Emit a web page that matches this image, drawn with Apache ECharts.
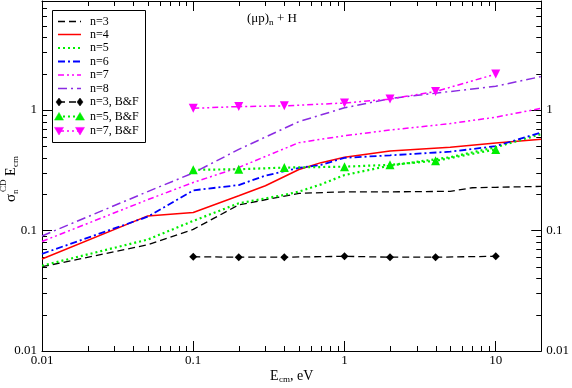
<!DOCTYPE html>
<html><head><meta charset="utf-8">
<script src="https://cdn.jsdelivr.net/npm/echarts@6/dist/echarts.min.js"></script>
<style>html,body{margin:0;padding:0;background:#fff}#c{width:572px;height:388px}</style>
</head><body><div id="c"></div><script>
const FONT = '"Liberation Serif","DejaVu Serif",serif';

// ---- tick labels ----
const xTickLabels = ['0.01', '0.1', '1', '10'];
const yTickLabels = ['0.01', '0.1', '1'];
const X_MIN = 0.01, X_MAX = 20, Y_MIN = 0.01, Y_MAX = 8;
const decades = [0.01, 0.1, 1, 10];
const minorMult = [2, 3, 4, 5, 6, 7, 8, 9];

// ---- series ----
const seriesNames = ['n=3', 'n=4', 'n=5', 'n=6', 'n=7', 'n=8', 'n=3, B&F', 'n=5, B&F', 'n=7, B&F'];
const n3 = [[0.01,0.050],[0.05,0.076],[0.1,0.102],[0.2,0.163],[0.5,0.203],[1,0.209],[2,0.209],[5,0.211],[7,0.226],[10,0.228],[20,0.232]];
const n4 = [[0.01,0.058],[0.05,0.132],[0.1,0.141],[0.2,0.194],[0.3,0.235],[0.5,0.32],[0.7,0.365],[1,0.405],[2,0.455],[5,0.49],[10,0.53],[20,0.57]];
const n5 = [[0.01,0.051],[0.05,0.084],[0.1,0.12],[0.2,0.168],[0.4,0.197],[0.5,0.21],[0.7,0.241],[1,0.288],[2,0.345],[5,0.405],[10,0.49],[20,0.63]];
const n6 = [[0.01,0.064],[0.05,0.130],[0.1,0.215],[0.2,0.238],[0.3,0.285],[0.5,0.33],[0.7,0.35],[1,0.40],[2,0.42],[5,0.45],[10,0.50],[20,0.65]];
const n7 = [[0.01,0.081],[0.05,0.18],[0.1,0.25],[0.2,0.333],[0.5,0.535],[1,0.61],[2,0.68],[5,0.77],[10,0.87],[20,1.03]];
const n8 = [[0.01,0.09],[0.05,0.21],[0.1,0.30],[0.2,0.47],[0.5,0.80],[1,1.04],[2,1.24],[5,1.42],[10,1.57],[20,1.89]];
const bf3 = [[0.1,0.0605],[0.2,0.060],[0.4,0.060],[1,0.061],[2,0.060],[4,0.060],[10,0.061]];
const bf5 = [[0.1,0.318],[0.2,0.322],[0.4,0.332],[1,0.338],[2,0.35],[4,0.378],[10,0.47]];
const bf7 = [[0.1,1.03],[0.2,1.065],[0.4,1.08],[1,1.14],[2,1.23],[4,1.42],[10,1.98]];

const xMinor = [];
decades.forEach(d => minorMult.forEach(m => { const v = +(d * m).toPrecision(6); if (v < X_MAX) xMinor.push([v, Y_MIN]); }));
const yMinor = [];
decades.forEach(d => minorMult.forEach(m => { const v = +(d * m).toPrecision(6); if (v < Y_MAX) yMinor.push([X_MIN, v]); }));

// ---- styles (per series, same order as seriesNames) ----
const styles = [
  { color: '#000000', dash: [7, 4], width: 1.3, symbol: null },
  { color: '#ff0000', dash: 'solid', width: 1.5, symbol: null },
  { color: '#00ee00', dash: [2, 3], width: 2.2, symbol: null },
  { color: '#0000ff', dash: [7, 3, 2, 3], width: 1.8, symbol: null },
  { color: '#ff00ff', dash: [6, 3, 2, 3, 2, 3], width: 1.5, symbol: null },
  { color: '#8a2be2', dash: [9, 4, 2, 4], width: 1.5, symbol: null },
  { color: '#000000', dash: [7, 4], width: 1.3, symbol: 'diamond', size: 8 },
  { color: '#00ee00', dash: [2, 3], width: 2.2, symbol: 'triangle', size: 9 },
  { color: '#ff00ff', dash: [6, 3, 2, 3, 2, 3], width: 1.5, symbol: 'triangle', size: 9, rotate: 180 }
];
const seriesData = [n3, n4, n5, n6, n7, n8, bf3, bf5, bf7];

function fmt(labels, first) {
  return function (v) {
    const l = Math.log10(v);
    const r = Math.round(l);
    if (Math.abs(l - r) > 1e-6) return '';
    return labels[r - first] || '';
  };
}

const axisCommon = {
  type: 'log', logBase: 10,
  axisLine: { show: true, onZero: false, lineStyle: { color: '#000', width: 1 } },
  axisTick: { show: true, inside: true, length: 10, lineStyle: { color: '#000', width: 1 } },
  splitLine: { show: false },
  axisLabel: { fontFamily: FONT, fontSize: 13, color: '#000' }
};

function minorXRender(params, api) {
  const p = api.coord([api.value(0), Y_MIN]);
  const cs = params.coordSys;
  const x = Math.round(p[0]) + 0.5;
  const b = cs.y + cs.height, t = cs.y;
  return { type: 'group', children: [
    { type: 'line', shape: { x1: x, y1: b, x2: x, y2: b - 5 }, style: { stroke: '#000', lineWidth: 1 } },
    { type: 'line', shape: { x1: x, y1: t, x2: x, y2: t + 5 }, style: { stroke: '#000', lineWidth: 1 } }
  ]};
}
function minorYRender(params, api) {
  const p = api.coord([X_MIN, api.value(1)]);
  const cs = params.coordSys;
  const y = Math.round(p[1]) + 0.5;
  const l = cs.x, r = cs.x + cs.width;
  return { type: 'group', children: [
    { type: 'line', shape: { x1: l, y1: y, x2: l + 5, y2: y }, style: { stroke: '#000', lineWidth: 1 } },
    { type: 'line', shape: { x1: r, y1: y, x2: r - 5, y2: y }, style: { stroke: '#000', lineWidth: 1 } }
  ]};
}

const series = seriesNames.map((name, i) => {
  const s = styles[i];
  return {
    name, type: 'line', data: seriesData[i], xAxisIndex: 0, yAxisIndex: 0,
    symbol: s.symbol || 'none', showSymbol: !!s.symbol, symbolSize: s.size || 0,
    symbolRotate: s.rotate || 0, smooth: false, animation: false,
    lineStyle: { color: s.color, width: s.width, type: s.dash, cap: 'butt' },
    itemStyle: { color: s.color }
  };
});
series.push(
  { name: 'xminor', type: 'custom', coordinateSystem: 'cartesian2d', xAxisIndex: 0, yAxisIndex: 0,
    data: xMinor, renderItem: minorXRender, silent: true, animation: false },
  { name: 'yminor', type: 'custom', coordinateSystem: 'cartesian2d', xAxisIndex: 0, yAxisIndex: 0,
    data: yMinor, renderItem: minorYRender, silent: true, animation: false }
);

// ---- manual legend (graphic) ----
const legendY = [21.5, 34.5, 48, 61.5, 75, 88.5, 102, 116.5, 131];
function markerShape(s, cx, cy) {
  const r = s.size / 2;
  let pts;
  if (s.symbol === 'diamond') pts = [[cx, cy - r], [cx + r * 0.75, cy], [cx, cy + r], [cx - r * 0.75, cy]];
  else if (s.rotate === 180) pts = [[cx - r, cy - r * 0.8], [cx + r, cy - r * 0.8], [cx, cy + r * 0.9]];
  else pts = [[cx - r, cy + r * 0.8], [cx + r, cy + r * 0.8], [cx, cy - r * 0.9]];
  return { type: 'polygon', shape: { points: pts }, style: { fill: s.color, stroke: s.color, lineWidth: 0.5 } };
}
const legendChildren = [
  { type: 'rect', shape: { x: 52.5, y: 10.5, width: 93, height: 132 }, style: { fill: '#fff', stroke: '#000', lineWidth: 1 } }
];
seriesNames.forEach((name, i) => {
  const s = styles[i];
  const y = legendY[i];
  legendChildren.push({ type: 'line', shape: { x1: 58, y1: y, x2: 81, y2: y },
    style: { stroke: s.color, lineWidth: s.width, lineDash: s.dash === 'solid' ? null : s.dash, lineCap: 'butt' } });
  if (s.symbol) {
    legendChildren.push(markerShape(s, 59, y));
    legendChildren.push(markerShape(s, 80, y));
  }
  legendChildren.push({ type: 'text', x: 90, y: y, style: { text: name, font: '12px ' + FONT, fill: '#000', verticalAlign: 'middle' } });
});

const option = {
  backgroundColor: '#fff',
  animation: false,
  grid: { left: 42, right: 30, top: 1, bottom: 37, containLabel: false },
  xAxis: [
    Object.assign({}, axisCommon, { position: 'bottom', min: X_MIN, max: X_MAX,
      axisLabel: Object.assign({}, axisCommon.axisLabel, { margin: 3, formatter: fmt(xTickLabels, -2) }) }),
    Object.assign({}, axisCommon, { position: 'top', min: X_MIN, max: X_MAX, axisLabel: { show: false } })
  ],
  yAxis: [
    Object.assign({}, axisCommon, { position: 'left', min: Y_MIN, max: Y_MAX,
      axisLabel: Object.assign({}, axisCommon.axisLabel, { margin: 5, formatter: fmt(yTickLabels, -2) }) }),
    Object.assign({}, axisCommon, { position: 'right', min: Y_MIN, max: Y_MAX,
      axisLabel: Object.assign({}, axisCommon.axisLabel, { margin: 5, formatter: fmt(yTickLabels, -2) }) })
  ],
  series,
  graphic: [
    { type: 'group', x: 0, y: 0, z: 100, children: legendChildren },
    { type: 'group', left: 247, top: 12, children: [
      { type: 'text', x: 0, y: 0, style: { text: '(μp)', font: '13px ' + FONT, fill: '#000' } },
      { type: 'text', x: 22, y: 6, style: { text: 'n', font: '9px ' + FONT, fill: '#000' } },
      { type: 'text', x: 30, y: 0, style: { text: '+ H', font: '13px ' + FONT, fill: '#000' } }
    ]},
    { type: 'group', left: 270, top: 369, children: [
      { type: 'text', x: 0, y: 0, style: { text: 'E', font: '14px ' + FONT, fill: '#000' } },
      { type: 'text', x: 9, y: 6, style: { text: 'cm', font: '9px ' + FONT, fill: '#000' } },
      { type: 'text', x: 20, y: 0, style: { text: ', eV', font: '14px ' + FONT, fill: '#000' } }
    ]},
    { type: 'group', x: 11, y: 202, rotation: Math.PI / 2, children: [
      { type: 'text', x: 0, y: 0, style: { text: 'σ', font: '15px ' + FONT, fill: '#000', verticalAlign: 'middle' } },
      { type: 'text', x: 8, y: 5, style: { text: 'n', font: '9px ' + FONT, fill: '#000', verticalAlign: 'middle' } },
      { type: 'text', x: 10, y: -7, style: { text: 'CD', font: '9px ' + FONT, fill: '#000', verticalAlign: 'middle' } },
      { type: 'text', x: 26, y: 0, style: { text: 'E', font: '14px ' + FONT, fill: '#000', verticalAlign: 'middle' } },
      { type: 'text', x: 35, y: 5, style: { text: 'cm', font: '9px ' + FONT, fill: '#000', verticalAlign: 'middle' } }
    ]}
  ]
};

const chart = echarts.init(document.getElementById('c'), null, { renderer: 'canvas' });
chart.setOption(option);
</script></body></html>
